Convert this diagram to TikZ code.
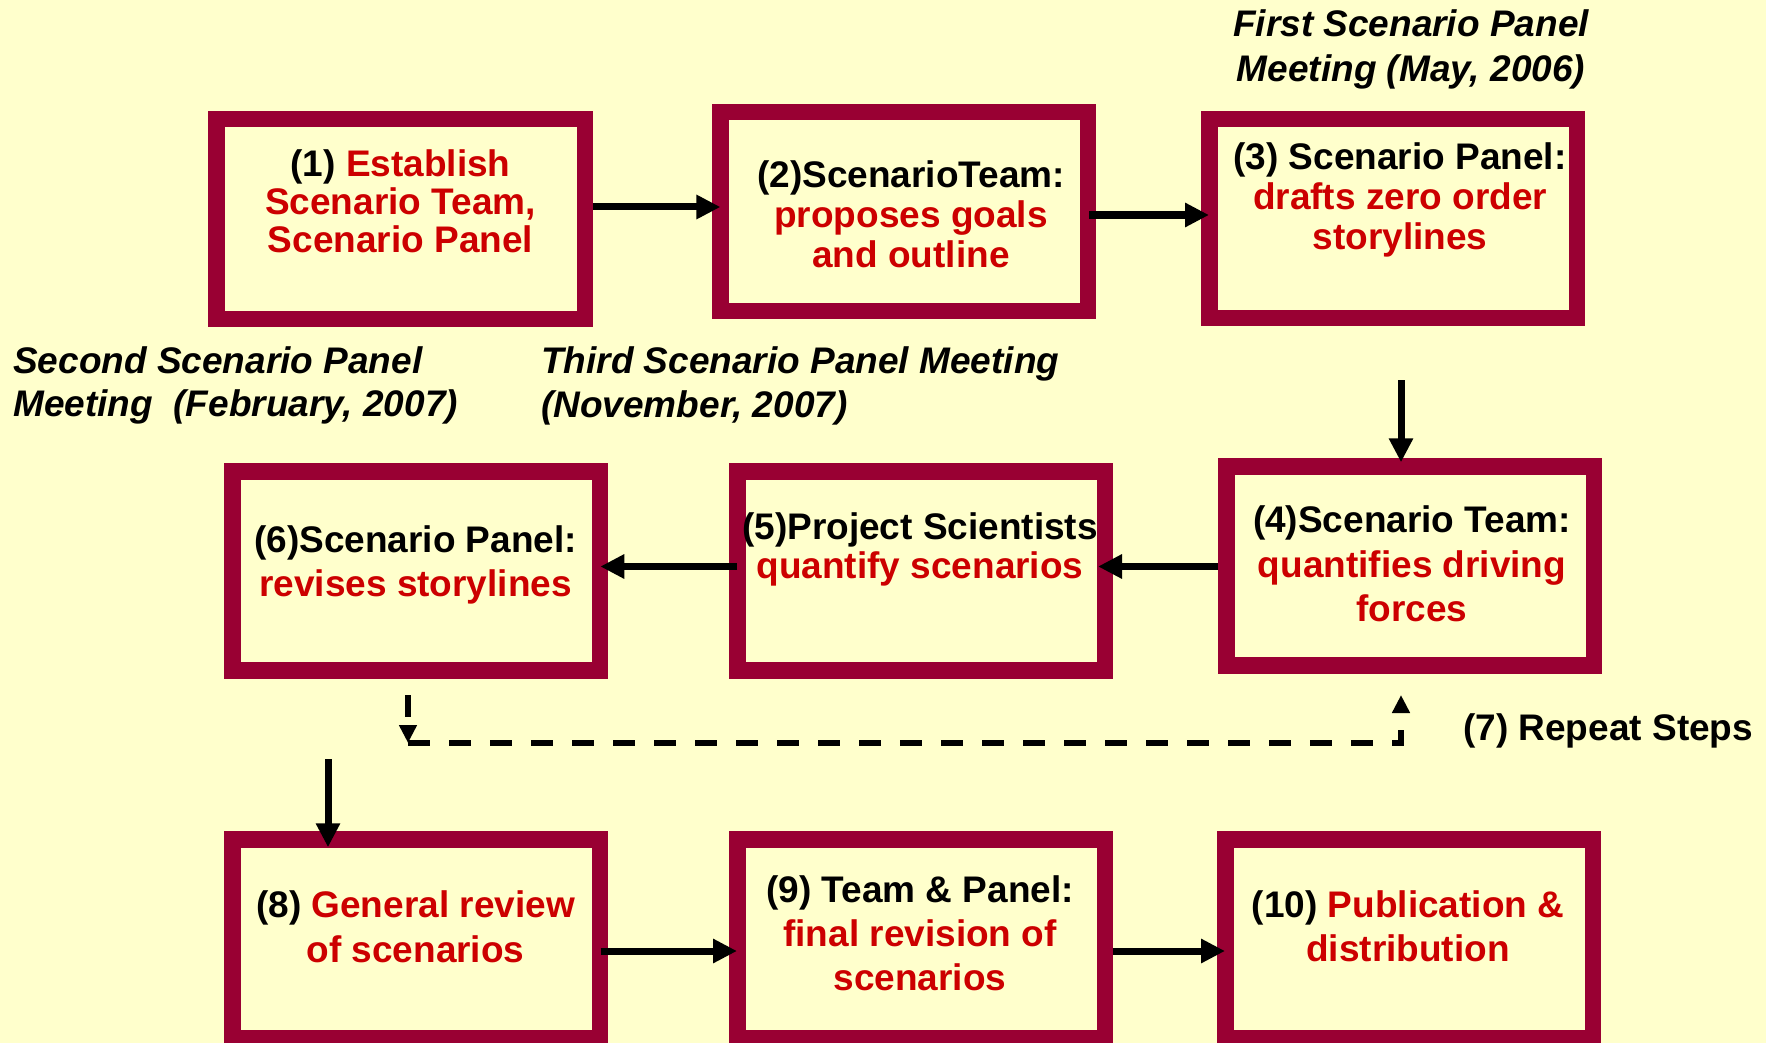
\documentclass[tikz,border=0pt]{standalone}
\usepackage{fontspec}
\setmainfont{Liberation Sans}
\usetikzlibrary{arrows.meta}
\definecolor{paper}{HTML}{FFFFCC}
\definecolor{frame}{HTML}{990033}
\definecolor{hot}{HTML}{CC0000}
\newcommand\boxfont[1]{\fontsize{37}{#1}\selectfont\bfseries}
\newcommand\notefont[1]{\fontsize{37}{#1}\selectfont\bfseries\itshape}
\newcommand\topstrut{\rule{0pt}{30pt}}
\newcommand\hl[1]{\textcolor{hot}{#1}}

\begin{document}
\begin{tikzpicture}[x=1pt,y=-1pt,
  stepbox/.style={draw=frame, line width=16.5pt, rectangle, inner sep=0pt,
                  minimum width=367.5pt, minimum height=199pt},
  txt/.style={inner sep=0pt, align=center, anchor=north, text=black},
  flow/.style={line width=7pt, -{Triangle[length=24pt,width=23pt]}},
  loop/.style={line width=6pt, dash pattern=on 22pt off 19pt,
               -{Triangle[length=18pt,width=17pt]}},
]
% page
\fill[paper] (0,0) rectangle (1766,1043);
\useasboundingbox (0,0) rectangle (1766,1043);

% step frames
\node[stepbox, minimum width=368.5pt, minimum height=199.5pt] (b1) at (400.5,219) {};
\node[stepbox] (b2) at (904.4,211.3) {};
\node[stepbox] (b3) at (1393,218.5) {};
\node[stepbox] (b4) at (1410,566) {};
\node[stepbox] (b5) at (921,571) {};
\node[stepbox] (b6) at (416.3,571) {};
\node[stepbox] (b8) at (416,939) {};
\node[stepbox] (b9) at (921,939) {};
\node[stepbox] (b10) at (1409,939) {};

% step texts
\node[txt, font=\boxfont{38}] (t1) at (400.5,146)
  {\topstrut(1) \hl{Establish}\\\hl{Scenario Team,}\\\hl{Scenario Panel}};
\node[txt, font=\boxfont{40}] (t2) at (911,157)
  {\topstrut(2)ScenarioTeam:\\\hl{proposes goals}\\\hl{and outline}};
\node[txt, font=\boxfont{40}] (t3) at (1400,139.5)
  {\topstrut(3) Scenario Panel:\\\hl{drafts zero order}\\\hl{storylines}};
\node[txt, font=\boxfont{44.5}] (t4) at (1412,502.5)
  {\topstrut(4)Scenario Team:\\\hl{quantifies driving}\\\hl{forces}};
\node[txt, font=\boxfont{39}] (t5) at (920,509.5)
  {\topstrut(5)Project Scientists\\\hl{quantify scenarios}};
\node[txt, font=\boxfont{44}] (t6) at (415.6,522.5)
  {\topstrut(6)Scenario Panel:\\\hl{revises storylines}};
\node[txt, font=\boxfont{45.5}] (t8) at (415.5,887)
  {\topstrut(8) \hl{General review}\\\hl{of scenarios}};
\node[txt, font=\boxfont{44}] (t9) at (920,872)
  {\topstrut(9) Team \& Panel:\\\hl{final revision of}\\\hl{scenarios}};
\node[txt, font=\boxfont{44.5}] (t10) at (1408,887)
  {\topstrut(10) \hl{Publication \&}\\\hl{distribution}};

% meeting notes
\node[txt, font=\notefont{45}] (m1) at (1411,6)
  {\topstrut First Scenario Panel\\Meeting (May, 2006)};
\node[inner sep=0pt, align=left, anchor=north west, font=\notefont{43}] (m2) at (13,343)
  {\topstrut Second Scenario Panel\\Meeting\ \ (February, 2007)};
\node[inner sep=0pt, align=left, anchor=north west, font=\notefont{44}] (m3) at (541,343)
  {\topstrut Third Scenario Panel Meeting\\(November, 2007)};
\node[inner sep=0pt, anchor=base west, font=\boxfont{40}] (rep) at (1463,740)
  {(7) Repeat Steps};

% flow arrows
\draw[flow, shorten >=-8pt] (b1.east |- 0,207) -- (b2.west |- 0,207);
\draw[flow, shorten <=-7pt, shorten >=-8pt] (b2.east |- 0,215) -- (b3.west |- 0,215);
\coordinate (c34) at (1401,380);
\draw[flow, shorten >=-4pt] (c34) -- (c34 |- b4.north);
\draw[flow, shorten >=-15pt] (b4.west |- 0,566.5) -- (b5.east |- 0,566.5);
\draw[flow, shorten <=-8pt, shorten >=-8pt] (b5.west |- 0,566.5) -- (b6.east |- 0,566.5);
\coordinate (c68) at (328,759);
\draw[flow, shorten >=-16pt] (c68) -- (c68 |- b8.north);
\draw[flow, shorten <=-7.5pt, shorten >=-8pt] (b8.east |- 0,951) -- (b9.west |- 0,951);
\draw[flow, shorten >=-8pt] (b9.east |- 0,951) -- (b10.west |- 0,951);

% repeat loop
\coordinate (d1) at (408,695);
\coordinate (d2) at (408,743);
\coordinate (d3) at (1401,695);
\draw[loop] (d1) -- (d2);
\draw[loop] (d2) -| (d3);
\end{tikzpicture}
\end{document}
